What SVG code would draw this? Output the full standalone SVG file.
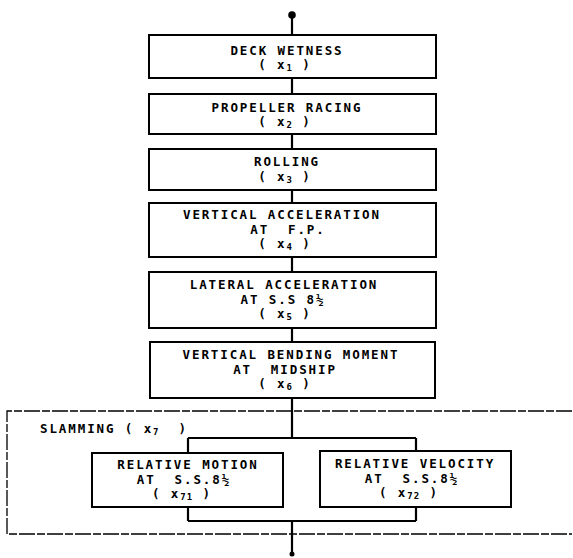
<svg xmlns="http://www.w3.org/2000/svg" width="573" height="558" viewBox="0 0 573 558">
<style>
.box{fill:#fff;stroke:#000;stroke-width:2}
.ln{fill:none;stroke:#000;stroke-width:2.2}
.dash{fill:none;stroke:#000;stroke-width:1.3;stroke-dasharray:16 2 8 2}
text{font-family:"DejaVu Sans Mono","Liberation Mono",monospace;font-size:12.5px;letter-spacing:1.9px;font-weight:bold;fill:#000;text-anchor:middle;white-space:pre}
.sub{font-size:9px;letter-spacing:1px}
</style>
<rect width="573" height="558" fill="#fff"/>
<g id="slamming-group">
<path class="dash" d="M572 411 H7 V534 H572"/>
<text x="40" y="433" style="text-anchor:start">SLAMMING ( x<tspan class="sub" dy="2">7</tspan><tspan dy="-2">  )</tspan></text>
</g>
<g id="connectors">
<circle cx="292" cy="15" r="3.8" fill="#000"/>
<path class="ln" d="M292 15 V35 M292 78 V94 M292 134 V149 M292 190 V203 M292 257 V272 M292 328 V342 M292 398 V438 M188 438 H416 M188 438 V453 M416 438 V451 M188 507 V521 M416 507 V521 M188 521 H416 M292 521 V555"/>
<circle cx="292" cy="554" r="2.5" fill="#000"/>
</g>
<g id="x1">
<rect class="box" x="149" y="35" width="287" height="43"/>
<text x="287" y="54.5">DECK WETNESS<tspan x="285" y="69">( x</tspan><tspan class="sub" dy="2">1</tspan><tspan dy="-2"> )</tspan></text>
</g>
<g id="x2">
<rect class="box" x="149" y="94" width="287" height="40"/>
<text x="287" y="111.5">PROPELLER RACING<tspan x="285" y="126">( x</tspan><tspan class="sub" dy="2">2</tspan><tspan dy="-2"> )</tspan></text>
</g>
<g id="x3">
<rect class="box" x="149" y="149" width="287" height="41"/>
<text x="287" y="166">ROLLING<tspan x="285" y="180.5">( x</tspan><tspan class="sub" dy="2">3</tspan><tspan dy="-2"> )</tspan></text>
</g>
<g id="x4">
<rect class="box" x="149" y="203" width="287" height="54"/>
<text x="282" y="219">VERTICAL ACCELERATION<tspan x="288" y="233.5">AT  F.P.</tspan><tspan x="285" y="248">( x</tspan><tspan class="sub" dy="2">4</tspan><tspan dy="-2"> )</tspan></text>
</g>
<g id="x5">
<rect class="box" x="149" y="272" width="287" height="56"/>
<text x="284" y="289">LATERAL ACCELERATION<tspan x="283" y="303.5">AT S.S 8½</tspan><tspan x="285" y="318">( x</tspan><tspan class="sub" dy="2">5</tspan><tspan dy="-2"> )</tspan></text>
</g>
<g id="x6">
<rect class="box" x="150" y="342" width="285" height="56"/>
<text x="291" y="359">VERTICAL BENDING MOMENT<tspan x="285" y="373.5">AT  MIDSHIP</tspan><tspan x="285" y="388">( x</tspan><tspan class="sub" dy="2">6</tspan><tspan dy="-2"> )</tspan></text>
</g>
<g id="x71">
<rect class="box" x="92" y="453" width="191" height="54"/>
<text x="188" y="469">RELATIVE MOTION<tspan x="184" y="483.5">AT  S.S.8½</tspan><tspan x="182" y="498">( x</tspan><tspan class="sub" dy="2">71</tspan><tspan dy="-2"> )</tspan></text>
</g>
<g id="x72">
<rect class="box" x="320" y="451" width="191" height="56"/>
<text x="415" y="468">RELATIVE VELOCITY<tspan x="412" y="482.5">AT  S.S.8½</tspan><tspan x="409" y="497">( x</tspan><tspan class="sub" dy="2">72</tspan><tspan dy="-2"> )</tspan></text>
</g>
</svg>
